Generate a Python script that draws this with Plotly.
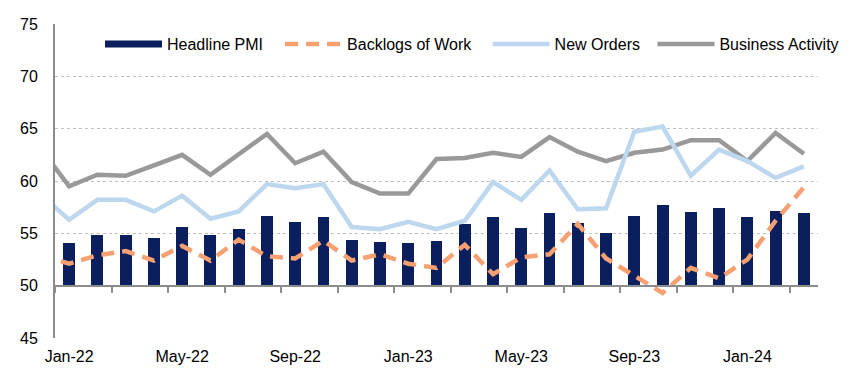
import plotly.graph_objects as go

# Months (Dec-21 is only partly visible at the left edge for the lines)
months = ["Dec-21",
          "Jan-22", "Feb-22", "Mar-22", "Apr-22", "May-22", "Jun-22", "Jul-22", "Aug-22", "Sep-22",
          "Oct-22", "Nov-22", "Dec-22", "Jan-23", "Feb-23", "Mar-23", "Apr-23", "May-23", "Jun-23",
          "Jul-23", "Aug-23", "Sep-23", "Oct-23", "Nov-23", "Dec-23", "Jan-24", "Feb-24", "Mar-24"]

headline_pmi = [None,
                54.1, 54.8, 54.8, 54.55, 55.6, 54.8, 55.4, 56.7, 56.1,
                56.6, 54.4, 54.2, 54.1, 54.3, 55.9, 56.6, 55.5, 56.9,
                56.0, 55.0, 56.7, 57.7, 57.0, 57.4, 56.6, 57.1, 56.9]

backlogs = [52.9,
            52.1, 52.9, 53.3, 52.4, 53.8, 52.4, 54.4, 52.8, 52.6,
            54.3, 52.4, 53.0, 52.1, 51.7, 53.9, 51.1, 52.7, 53.0,
            55.9, 52.6, 51.0, 49.3, 51.7, 50.7, 52.5, 56.2, 59.4]

new_orders = [58.7,
              56.3, 58.2, 58.2, 57.1, 58.6, 56.4, 57.1, 59.7, 59.3,
              59.7, 55.6, 55.4, 56.1, 55.4, 56.2, 59.9, 58.2, 61.0,
              57.3, 57.4, 64.7, 65.2, 60.5, 63.0, 61.9, 60.3, 61.4]

business_activity = [63.1,
                     59.5, 60.6, 60.5, 61.5, 62.5, 60.6, 62.6, 64.5, 61.7,
                     62.8, 59.9, 58.8, 58.8, 62.1, 62.2, 62.7, 62.3, 64.2,
                     62.8, 61.9, 62.7, 63.0, 63.9, 63.9, 61.9, 64.6, 62.6]

tick_labels = ["Jan-22", "May-22", "Sep-22", "Jan-23", "May-23", "Sep-23", "Jan-24"]
y_ticks = [45, 50, 55, 60, 65, 70, 75]

NAVY = "#0B1F5E"
ORANGE = "#F7A072"
LIGHTBLUE = "#BDD7EE"
GREY = "#999999"
AXIS = "#8C8C8C"
FONT = "Liberation Sans, Arial, sans-serif"

# numeric positions: Dec-21 -> -1, Jan-22 -> 0, ...
xpos = list(range(-1, len(months) - 1))
bar_base = 50
bar_x = [x for x, v in zip(xpos, headline_pmi) if v is not None]
bar_h = [v - bar_base for v in headline_pmi if v is not None]
tick_pos = [xpos[months.index(m)] for m in tick_labels]
n_cat = len(months) - 1

fig = go.Figure()

fig.add_trace(go.Bar(x=bar_x, y=bar_h, base=bar_base, width=0.42,
                     marker=dict(color=NAVY, line=dict(width=0)),
                     showlegend=False, hoverinfo="skip"))

fig.add_trace(go.Scatter(x=xpos, y=business_activity, mode="lines", name="Business Activity",
                         line=dict(color=GREY, width=4.5), legend="legend4"))
fig.add_trace(go.Scatter(x=xpos, y=new_orders, mode="lines", name="New Orders",
                         line=dict(color=LIGHTBLUE, width=4.5), legend="legend3"))
fig.add_trace(go.Scatter(x=xpos, y=backlogs, mode="lines", name="Backlogs of Work",
                         line=dict(color=ORANGE, width=4.5, dash="13px,8px"), legend="legend2"))
# legend entry for bars drawn as a thick line swatch
fig.add_trace(go.Scatter(x=[None], y=[None], mode="lines", name="Headline PMI",
                         line=dict(color=NAVY, width=7), legend="legend"))
# dummy trace on the axis drawn at the 50 line
fig.add_trace(go.Scatter(x=[0], y=[None], xaxis="x2", mode="lines",
                         showlegend=False, hoverinfo="skip"))

y0, y1 = 45, 75


def leg(xp):
    return dict(orientation="h", x=xp, xanchor="left", y=0.936, yanchor="middle",
                bgcolor="rgba(0,0,0,0)", font=dict(size=16), itemwidth=57)


fig.update_layout(
    width=847, height=367,
    margin=dict(l=47, r=37, t=16, b=37, autoexpand=False),
    paper_bgcolor="white", plot_bgcolor="white",
    font=dict(family=FONT, size=16, color="#000000"),
    bargap=0,
    xaxis=dict(range=[-0.5, n_cat - 0.5], tickvals=tick_pos, ticktext=tick_labels,
               ticks="", showline=False, showgrid=False, zeroline=False,
               tickfont=dict(size=16), ticklabelstandoff=7),
    xaxis2=dict(range=[-0.5, n_cat - 0.5], overlaying="x", anchor="free",
                position=(bar_base - y0) / (y1 - y0),
                showline=True, linecolor=AXIS, linewidth=2,
                ticks="outside", ticklen=6, tickwidth=2, tickcolor=AXIS,
                tickvals=[p - 0.5 for p in range(0, n_cat + 1, 2)],
                showticklabels=False, showgrid=False, zeroline=False),
    yaxis=dict(range=[y0, y1], tickvals=y_ticks, ticks="",
               showline=True, linecolor=AXIS, linewidth=2,
               showgrid=True, gridcolor="#BFBFBF", griddash="dot", gridwidth=1,
               zeroline=False, tickfont=dict(size=16), ticklabelstandoff=12),
    legend=leg(0.059),
    legend2=leg(0.295),
    legend3=leg(0.567),
    legend4=leg(0.783),
    showlegend=True,
)

fig.write_html("out.html")
